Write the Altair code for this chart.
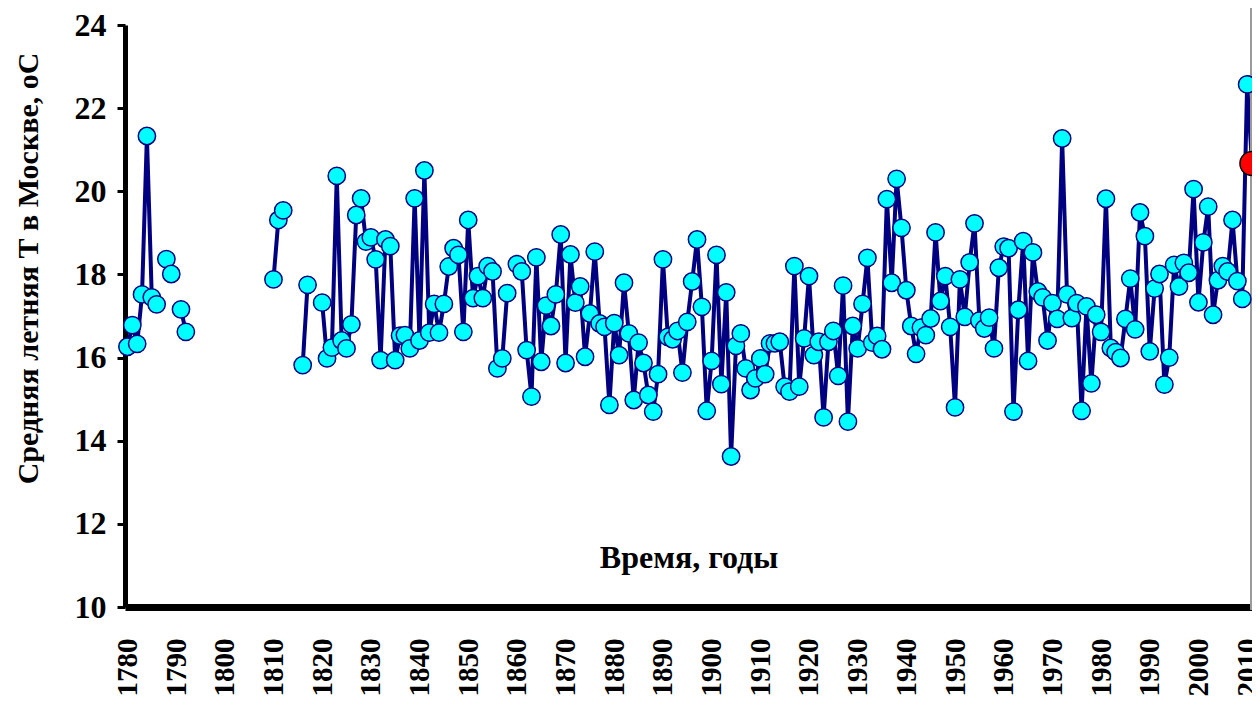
import altair as alt
import pandas as pd

# ---- data ----
seg_starts = [1780, 1788, 1791, 1810, 1816, 1820, 1860]
seg_1780 = [16.26, 16.78, 16.33, 17.52, 21.33, 17.45, 17.28]
seg_1788 = [18.37, 18.01]
seg_1791 = [17.16, 16.62]
seg_1810 = [17.88, 19.31, 19.54]
seg_1816 = [15.82, 17.75]
seg_1820 = [17.32, 15.98, 16.24, 20.37, 16.41, 16.22, 16.80, 19.43, 19.83, 18.79,
            18.89, 18.36, 15.94, 18.84, 18.68, 15.94, 16.53, 16.54, 16.22, 19.83,
            16.41, 20.50, 16.60, 17.29, 16.60, 17.29, 18.19, 18.63, 18.47, 16.62,
            19.31, 17.43, 17.96, 17.43, 18.20, 18.07, 15.74, 15.98, 17.55]
seg_1860 = [18.25, 18.07, 16.18, 15.06, 18.41, 15.90, 17.25, 16.76, 17.52, 18.96,
            15.87, 18.48, 17.32, 17.71, 16.02, 17.06, 18.55, 16.82, 16.74, 14.86,
            16.83, 16.06, 17.80, 16.58, 14.98, 16.36, 15.87, 15.10, 14.70, 15.60,
            18.36, 16.50, 16.44, 16.64, 15.64, 16.86, 17.83, 18.84, 17.22, 14.72,
            15.92, 18.47, 15.36, 17.57, 13.62, 16.28, 16.58, 15.74, 15.22, 15.50,
            15.98, 15.60, 16.34, 16.34, 16.38, 15.30, 15.18, 18.20, 15.30, 16.46,
            17.96, 16.06, 16.38, 14.56, 16.38, 16.64, 15.56, 17.73, 14.46, 16.76,
            16.22, 17.29, 18.40, 16.36, 16.52, 16.20, 19.81, 17.80, 20.30, 19.12,
            17.62, 16.76, 16.09, 16.72, 16.54, 16.94, 19.01, 17.36, 17.96, 16.74,
            14.80, 17.88, 16.98, 18.29, 19.23, 16.89, 16.70, 16.96, 16.22, 18.16,
            18.67, 18.63, 14.70, 17.15, 18.80, 15.92, 18.53, 17.59, 17.45, 16.41,
            17.31, 16.93, 21.27, 17.52, 16.95, 17.31, 14.72, 17.23, 15.38, 17.03,
            16.62, 19.82, 16.23, 16.13, 15.99, 16.93, 17.90, 16.68, 19.49, 18.92,
            16.15, 17.66, 18.01, 15.35, 16.00, 18.23, 17.71, 18.28, 18.04, 20.05,
            17.33, 18.77, 19.63, 17.03, 17.86, 18.20, 18.07, 19.31, 17.84, 17.41,
            22.57, 20.67]
highlight_year = [2011]
highlight_temp = [20.67]

x_ticks = list(range(1780, 2011, 10))
y_ticks = list(range(10, 25, 2))

y_title = "Средняя летняя Т в Москве, оС"
x_title = "Время, годы"

segments = [seg_1780, seg_1788, seg_1791, seg_1810, seg_1816, seg_1820, seg_1860]
rows = []
for sid, (start, vals) in enumerate(zip(seg_starts, segments)):
    for i, v in enumerate(vals):
        rows.append({"year": start + i, "temp": v, "seg": sid})
df = pd.DataFrame(rows)
df_red = pd.DataFrame({"year": highlight_year, "temp": highlight_temp})

FONT = "Liberation Serif"
W, H = 1127, 582

x_enc = alt.X(
    "year:Q",
    scale=alt.Scale(domain=[1779.5, 2011.0], nice=False, zero=False),
    axis=alt.Axis(
        values=x_ticks, format="d", labelAngle=270, labelAlign="right",
        labelBaseline="middle", labelFont=FONT, labelFontSize=29,
        labelFontWeight="bold", labelPadding=31, ticks=False, grid=False,
        domainColor="black", domainWidth=7, labelColor="black",
        title=x_title, titleFont=FONT, titleFontSize=32, titleFontWeight="bold",
        titleColor="black", titleY=-50, titleBaseline="middle", labelFlush=False,
        labelOverlap=False,
    ),
)
y_enc = alt.Y(
    "temp:Q",
    scale=alt.Scale(domain=[10, 24], nice=False, zero=False),
    axis=alt.Axis(
        values=y_ticks, format="d", labelFont=FONT, labelFontSize=32,
        labelFontWeight="bold", labelColor="black", labelPadding=11,
        tickSize=8, tickWidth=3, tickColor="black", domainColor="black",
        domainWidth=5, grid=False,
        title=y_title, titleFont=FONT, titleFontSize=30, titleFontWeight="bold",
        titleColor="black", titleAngle=270, titleAlign="center",
        titleBaseline="middle", titleX=-97, titleY=243,
    ),
)

line = alt.Chart(df).mark_line(color="#000080", strokeWidth=4).encode(
    x=x_enc, y=y_enc, detail="seg:N"
)
pts = alt.Chart(df).mark_circle(
    size=300, color="#00FFFF", stroke="#000080", strokeWidth=1.5, opacity=1
).encode(x="year:Q", y="temp:Q")
red = alt.Chart(df_red).mark_circle(
    size=580, color="#FF0000", stroke="black", strokeWidth=1.5, opacity=1
).encode(x="year:Q", y="temp:Q")
border = alt.Chart(df_red).mark_rule(color="#9a9a9a", strokeWidth=2).encode(
    x=alt.value(W - 1), y=alt.value(-17), y2=alt.value(H + 3)
)

chart = (
    alt.layer(line, border, pts, red)
    .properties(
        width=W, height=H,
        autosize=alt.AutoSizeParams(type="none"),
        padding={"left": 117, "top": 17, "right": 0, "bottom": 89},
    )
    .configure_view(stroke=None)
)

chart.save("out.html", embed_options={"renderer": "svg", "actions": False})
